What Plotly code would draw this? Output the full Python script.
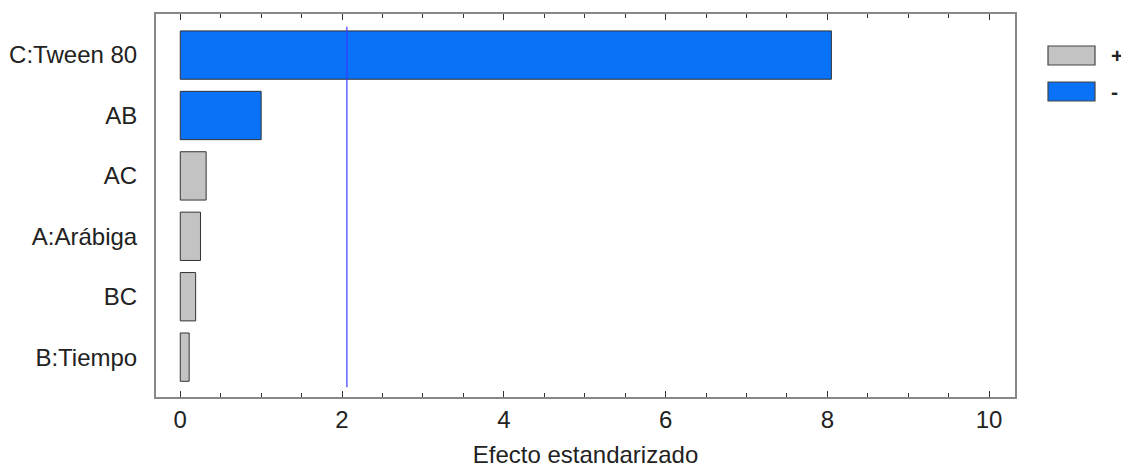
import plotly.graph_objects as go

categories = ["C:Tween 80", "AB", "AC", "A:Arábiga", "BC", "B:Tiempo"]
effects = [8.05, 1.0, 0.32, 0.25, 0.19, 0.11]
signs = ["-", "-", "+", "+", "+", "+"]
critical_value = 2.06
x_ticks = [0, 2, 4, 6, 8, 10]

GREY = "#c3c3c3"
BLUE = "#0a72f7"
FONT = "Liberation Sans, Arial, sans-serif"

# page offset (browser body margin) compensation
OFFX, OFFY = 7, 6
W, H = 1129, 468
PL, PR, PT, PB = 155, 1014, 12, 395  # plot frame in screen px
L = PL - OFFX
T = PT - OFFY
R = W - L - (PR - PL)
B = H - T - (PB - PT)


def px(sx):
    return (sx - PL) / (PR - PL)


def py(sy):
    return 1 - (sy - PT) / (PB - PT)


fig = go.Figure()
for sign, color in [("+", GREY), ("-", BLUE)]:
    xs = [e for e, s in zip(effects, signs) if s == sign]
    ys = [c for c, s in zip(categories, signs) if s == sign]
    fig.add_trace(go.Bar(
        x=xs, y=ys, orientation="h", name=sign,
        marker=dict(color=color, line=dict(color="#333333", width=1)),
        width=0.8, showlegend=False,
    ))

fig.add_shape(type="line", x0=critical_value, x1=critical_value,
              y0=-0.47, y1=len(categories) - 0.5, xref="x", yref="y",
              line=dict(color="#3a3aff", width=1.2))

# legend boxes
legend_items = [("+", GREY), ("-", BLUE)]
for i, (lab, col) in enumerate(legend_items):
    y_top = 44 + i * 36
    fig.add_shape(type="rect", xref="paper", yref="paper",
                  x0=px(1047), x1=px(1094),
                  y0=py(y_top + 19), y1=py(y_top),
                  fillcolor=col, line=dict(color="#444444", width=1.2))
    fig.add_annotation(xref="paper", yref="paper",
                       x=px(1108), y=py(y_top + 9.5),
                       text="<b>" + lab + "</b>", showarrow=False,
                       xanchor="left", yanchor="middle",
                       font=dict(family=FONT, size=21, color="#222222"))

fig.update_layout(
    width=W, height=H,
    margin=dict(l=L, r=R, t=T, b=B, autoexpand=False),
    paper_bgcolor="white", plot_bgcolor="white",
    barmode="overlay",
    font=dict(family=FONT, size=24, color="#222222"),
    showlegend=False,
)
fig.update_xaxes(
    range=[-0.3, 10.32], tickvals=x_ticks, ticktext=[str(v) for v in x_ticks],
    ticks="inside", ticklen=6, tickcolor="#333333",
    minor=dict(dtick=0.5, ticks="inside", ticklen=4, tickcolor="#333333"),
    showline=True, linecolor="#888888", linewidth=2, mirror="ticks",
    showgrid=False, zeroline=False,
    title=dict(text="Efecto estandarizado", font=dict(size=24), standoff=14),
    tickfont=dict(size=24),
)
fig.update_yaxes(
    categoryorder="array", categoryarray=categories, autorange=False,
    range=[len(categories) - 1 + 0.66, -0.68],
    showline=True, linecolor="#888888", linewidth=2, mirror=True,
    showgrid=False, zeroline=False, ticks="", ticklabelstandoff=12,
    tickfont=dict(size=24),
)

fig.write_html("out.html")
